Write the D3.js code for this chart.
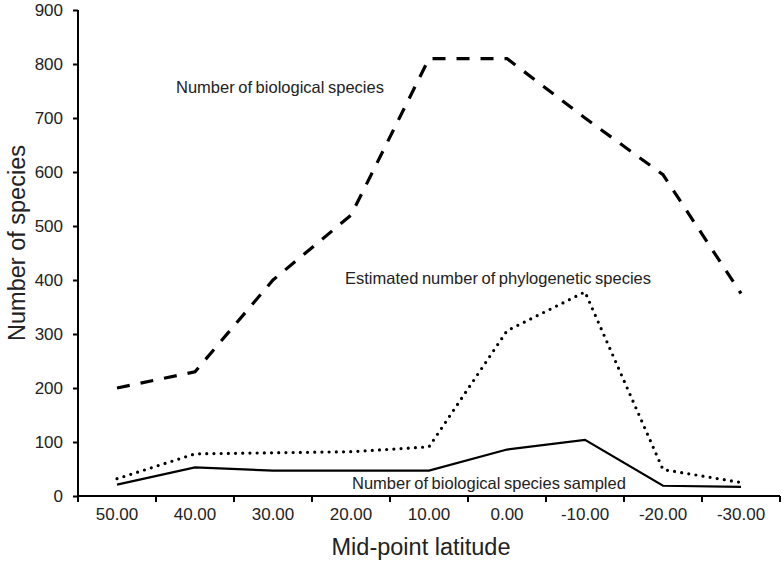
<!DOCTYPE html>
<html><head><meta charset="utf-8">
<script src="https://d3js.org/d3.v7.min.js"></script>
<style>body{margin:0;background:#fff}svg{display:block}text{font-family:"Liberation Sans",Arial,sans-serif;fill:#222}</style>
</head><body><svg id="c" width="784" height="563"></svg>
<script>
const categories = ["50.00","40.00","30.00","20.00","10.00","0.00","-10.00","-20.00","-30.00"];
const biological = [200,230,400,520,810,810,700,595,375];
const phylogenetic = [32,78,80,82,91,306,378,49,25];
const sampled = [21,53,47,47,47,86,104,19,17];
const yTicks = [0,100,200,300,400,500,600,700,800,900];

const svg = d3.select("#c");
const x = d3.scaleBand().domain(categories).range([78,780]);
const y = d3.scaleLinear().domain([0,900]).range([496,10]);

const yAxis = svg.append("g").attr("transform","translate(78,0)")
  .call(d3.axisLeft(y).tickValues(yTicks).tickSize(5).tickPadding(10));
const xAxis = svg.append("g").attr("transform","translate(0,496)")
  .call(d3.axisBottom(x).tickSize(0).tickPadding(12));
const bounds = categories.map(c=>x(c)).concat([x.range()[1]]);
svg.append("g").selectAll("line").data(bounds).join("line")
  .attr("x1",d=>d).attr("x2",d=>d).attr("y1",496).attr("y2",502)
  .attr("stroke","#000").attr("stroke-width",2);
[yAxis,xAxis].forEach(a=>{
  a.selectAll("path").attr("stroke","#000").attr("stroke-width",2);
  a.selectAll("line").attr("stroke","#000").attr("stroke-width",2);
  a.selectAll("text").style("font-size","17px").attr("fill","#222");
});
xAxis.select("path").attr("d","M78,0H780");
yAxis.select("path").attr("d","M0,10V496");

const line = d3.line().x((d,i)=>x(categories[i])+x.bandwidth()/2).y(d=>y(d));
svg.append("path").datum(biological).attr("d",line).attr("fill","none")
  .attr("stroke","#000").attr("stroke-width",3.2).attr("stroke-dasharray","13 11");
svg.append("path").datum(phylogenetic).attr("d",line).attr("fill","none")
  .attr("stroke","#000").attr("stroke-width",3.2).attr("stroke-linecap","round").attr("stroke-dasharray","0 7.2");
svg.append("path").datum(sampled).attr("d",line).attr("fill","none")
  .attr("stroke","#000").attr("stroke-width",2.2);

svg.append("text").attr("x",176).attr("y",93).style("font-size","16.5px").style("word-spacing","-1px").text("Number of biological species");
svg.append("text").attr("x",345).attr("y",284).style("font-size","16.5px").style("word-spacing","-1px").text("Estimated number of phylogenetic species");
svg.append("text").attr("x",352).attr("y",489).style("font-size","16.5px").style("word-spacing","-1px").text("Number of biological species sampled");

svg.append("text").attr("x",421).attr("y",555).attr("text-anchor","middle").style("font-size","23.5px").text("Mid-point latitude");
svg.append("text").attr("transform","translate(25,243) rotate(-90)").attr("text-anchor","middle").style("font-size","23.5px").text("Number of species");
</script></body></html>
